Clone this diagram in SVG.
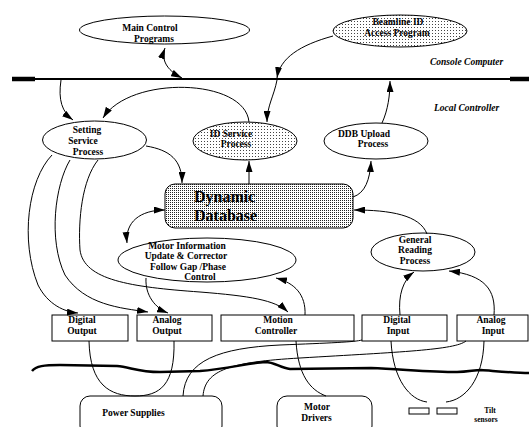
<svg xmlns="http://www.w3.org/2000/svg" width="529" height="427" viewBox="0 0 529 427">
<defs>
<marker id="a" markerUnits="userSpaceOnUse" markerWidth="11" markerHeight="7" refX="11" refY="3.5" orient="auto-start-reverse"><path d="M0,0 L11,3.5 L0,7 z" fill="#000"/></marker>
<pattern id="sp" width="3" height="3" patternUnits="userSpaceOnUse"><rect width="3" height="3" fill="#fff"/><rect width="1" height="1" fill="#444"/></pattern>
<pattern id="dp" width="2" height="2" patternUnits="userSpaceOnUse"><rect width="2" height="2" fill="#fff"/><rect width="1" height="1" fill="#222"/></pattern>
<style>
text{font-family:"Liberation Serif","Times New Roman",serif;font-weight:bold;font-size:9.5px;fill:#000;text-anchor:middle}
.it{font-style:italic;text-anchor:start}
.big{font-size:16px;text-anchor:start}
.sm{font-size:7.5px}
.n{fill:#fff;stroke:#000;stroke-width:1}
.c path{fill:none;stroke:#000;stroke-width:1}
.ar{marker-end:url(#a)}
.ar2{marker-start:url(#a);marker-end:url(#a)}
</style>
</defs>
<rect width="529" height="427" fill="#fff"/>

<g id="buses">
<line x1="12" y1="79" x2="529" y2="79" stroke="#000" stroke-width="2"/>
<line x1="12" y1="79" x2="35" y2="79" stroke="#000" stroke-width="4.5"/>
<line x1="510" y1="79" x2="529" y2="79" stroke="#000" stroke-width="4.5"/>
<path d="M32,371 C36,366 44,365 60,365 L117,366 C130,367 138,372 160,372 L200,371 C225,369 250,363 265,362 C275,362 280,368 290,369 L371,368 C400,369 430,372 457,372 C468,372 474,370 481,370 C495,371 515,373 529,373" fill="none" stroke="#000" stroke-width="2.5"/>
</g>

<g id="labels">
<text class="it" x="430" y="65">Console  Computer</text>
<text class="it" x="434" y="111">Local Controller</text>
</g>

<g id="main-control">
<ellipse class="n" cx="164.5" cy="30" rx="85" ry="14"/>
<text x="150" y="31">Main Control</text>
<text x="154" y="42">Programs</text>
</g>

<g id="beamline">
<ellipse cx="400" cy="31" rx="67" ry="16" fill="url(#sp)" stroke="#000"/>
<text x="398" y="25">Beamline ID</text>
<text x="397" y="36">Access Program</text>
</g>

<g id="setting">
<ellipse class="n" cx="94.5" cy="140" rx="52" ry="19"/>
<text x="87" y="133">Setting</text>
<text x="83" y="144">Service</text>
<text x="88" y="155">Process</text>
</g>

<g id="id-service">
<ellipse cx="245" cy="141" rx="52" ry="19" fill="url(#sp)" stroke="#000"/>
<text x="231" y="137">ID Service</text>
<text x="236" y="147">Process</text>
</g>

<g id="ddb-upload">
<ellipse class="n" cx="376" cy="141" rx="52" ry="18"/>
<text x="364" y="137">DDB Upload</text>
<text x="373" y="147">Process</text>
</g>

<g id="dynamic-db">
<rect x="165" y="184" width="188" height="44" rx="10" fill="url(#dp)" stroke="#000"/>
<text class="big" x="194" y="201.5">Dynamic</text>
<text class="big" x="194" y="220.5">Database</text>
</g>

<g id="motor-info">
<ellipse class="n" cx="207" cy="260" rx="89" ry="22"/>
<text x="187" y="249">Motor Information</text>
<text x="186" y="259">Update &amp; Corrector</text>
<text x="188" y="270">Follow Gap /Phase</text>
<text x="200" y="280">Control</text>
</g>

<g id="general-reading">
<ellipse class="n" cx="423" cy="252" rx="52" ry="19"/>
<text x="415" y="243">General</text>
<text x="415" y="253">Reading</text>
<text x="415" y="264">Process</text>
</g>

<g id="digital-output">
<rect class="n" x="52" y="315" width="76" height="26"/>
<text x="82" y="323">Digital</text>
<text x="82" y="334">Output</text>
</g>
<g id="analog-output">
<rect class="n" x="137" y="315" width="75" height="26"/>
<text x="167" y="323">Analog</text>
<text x="167" y="334">Output</text>
</g>
<g id="motion-controller">
<rect class="n" x="221" y="315" width="133" height="26"/>
<text x="278" y="323">Motion</text>
<text x="276" y="334">Controller</text>
</g>
<g id="digital-input">
<rect class="n" x="362" y="315" width="85" height="26"/>
<text x="397" y="323">Digital</text>
<text x="398" y="334">Input</text>
</g>
<g id="analog-input">
<rect class="n" x="457" y="315" width="71" height="26"/>
<text x="491" y="323">Analog</text>
<text x="493" y="334">Input</text>
</g>

<g id="power-supplies">
<rect class="n" x="80" y="396" width="142" height="40" rx="10"/>
<text x="133.5" y="416">Power Supplies</text>
</g>
<g id="motor-drivers">
<rect class="n" x="277" y="396" width="95" height="40" rx="10"/>
<text x="317" y="410">Motor</text>
<text x="316.5" y="421">Drivers</text>
</g>
<g id="tilt-sensors">
<rect class="n" x="409" y="408" width="20" height="6"/>
<rect class="n" x="437" y="408" width="20" height="6"/>
<text class="sm" x="490" y="413">Tilt</text>
<text class="sm" x="486" y="422">sensors</text>
</g>

<g id="connectors" class="c">
<path class="ar2" d="M165,48 C160,62 170,72 182,78"/>
<path class="ar" d="M333,36 C300,45 280,58 277,78"/>
<path class="ar" d="M277,80 C274,96 267,106 267,122"/>
<path class="ar" d="M382,123 C388,110 390,95 390,81"/>
<path class="ar" d="M61,80 C58,100 62,112 73,120"/>
<path class="ar" d="M249,122 C245,78 130,75 103,118"/>
<path class="ar" d="M146,146 C170,150 182,160 182,183"/>
<path class="ar" d="M249,184 L249,161"/>
<path class="ar" d="M353,197 C365,193 370,180 371,161"/>
<path class="ar" d="M427,234 C420,215 390,210 354,210"/>
<path class="ar2" d="M165,210 C140,210 125,222 127,243"/>
<path class="ar" d="M52,155 C28,180 20,240 38,285 C48,305 65,312 78,313"/>
<path class="ar" d="M70,160 C55,185 48,240 65,275 C85,305 120,308 148,312"/>
<path class="ar" d="M98,160 C82,180 78,220 80,250 C84,280 130,287 200,292 C250,296 275,300 288,312"/>
<path class="ar" d="M146,278 C145,295 155,308 168,313"/>
<path class="ar" d="M305,315 C306,295 295,283 276,278"/>
<path class="ar" d="M400,315 C398,295 403,280 414,272"/>
<path class="ar" d="M494,315 C496,290 485,275 449,271"/>
<path d="M89,341 C90,385 110,396 135,396 C160,396 175,385 174,341"/>
<path d="M183,396 C185,360 220,348 280,345 C330,343 355,342 362,340"/>
<path d="M203,396 C205,370 230,362 300,358 C400,352 455,350 466,341"/>
<path d="M296,341 C298,375 310,390 326,396"/>
<path d="M391,341 C393,380 410,400 427,402"/>
<path d="M484,341 C483,380 465,400 446,402"/>
</g>
</svg>
